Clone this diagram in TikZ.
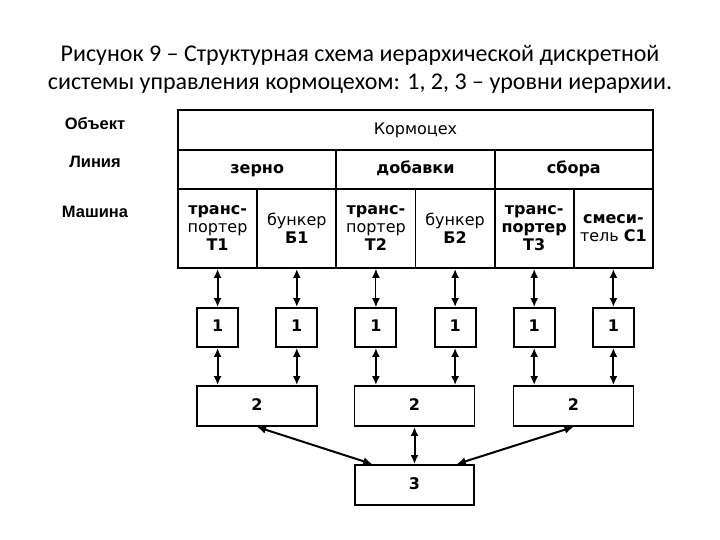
\documentclass[tikz,border=0pt]{standalone}
\usepackage{fontspec}
\setmainfont{Liberation Sans}
\newfontfamily\cellfont{DejaVu Sans}
\newfontfamily\titlefont{Carlito}
\usetikzlibrary{arrows.meta,positioning,calc}

\begin{document}
\begin{tikzpicture}[x=1pt, y=-1pt,
    cell/.style={draw, line width=1.9pt, inner sep=0pt, align=center, font=\cellfont\fontsize{16}{18}\selectfont},
    oneline/.style={text height=12pt, text depth=3.5pt},
    objcell/.style={cell, oneline, minimum width=475pt, minimum height=40pt},
    linecell/.style={cell, oneline, minimum width=158.3pt, minimum height=39pt, font=\cellfont\fontsize{16}{18}\selectfont\bfseries},
    machcell/.style={cell, minimum width=79.2pt, minimum height=79pt},
    lvl/.style={cell, oneline, minimum height=40pt, font=\cellfont\fontsize{16}{18}\selectfont\bfseries},
    side/.style={oneline, font=\fontsize{16.5}{18}\selectfont\bfseries},
    link/.style={{Latex[length=9pt,width=8pt]}-{Latex[length=9pt,width=8pt]}, line width=2pt}
]
\useasboundingbox (0,0) rectangle (720,540);
\node[align=center, font=\titlefont\fontsize{24}{28}\selectfont] (title) at (360,69)
    {Рисунок 9 – Структурная схема иерархической дискретной\\системы управления кормоцехом: 1, 2, 3 – уровни иерархии.};

% table
\node[side] (lobj) at (95,125) {Объект};
\node[side] (lline) at (95,163) {Линия};
\node[side] (lmach) at (95,213) {Машина};
\node[objcell] (obj) at (415.5,130) {Кормоцех};
\node[linecell] (ln1) at (257.2,169.5) {зерно};
\node[linecell] (ln2) at (415.5,169.5) {добавки};
\node[linecell] (ln3) at (573.8,169.5) {сбора};
\node[machcell] (m1) at (217.6,228.5) {\textbf{транс-}\\портер\\\textbf{Т1}};
\node[machcell] (m2) at (296.8,228.5) {бункер\\\textbf{Б1}};
\node[machcell] (m3) at (375.9,228.5) {\textbf{транс-}\\портер\\\textbf{Т2}};
\node[machcell] (m4) at (455.1,228.5) {бункер\\\textbf{Б2}};
\node[machcell] (m5) at (534.2,228.5) {\textbf{транс-}\\\textbf{портер}\\\textbf{Т3}};
\node[machcell] (m6) at (613.4,228.5) {\textbf{смеси-}\\тель \textbf{С1}};

% levels
\node[lvl, minimum width=41pt, minimum height=39pt] (a1) at (217.6,327.5) {1};
\node[lvl, minimum width=41pt, minimum height=39pt] (a2) at (296.8,327.5) {1};
\node[lvl, minimum width=41pt, minimum height=39pt] (a3) at (375.9,327.5) {1};
\node[lvl, minimum width=41pt, minimum height=39pt] (a4) at (455.1,327.5) {1};
\node[lvl, minimum width=41pt, minimum height=39pt] (a5) at (534.2,327.5) {1};
\node[lvl, minimum width=41pt, minimum height=39pt] (a6) at (613.4,327.5) {1};
\node[lvl, minimum width=120pt] (b1) at (257,406) {2};
\node[lvl, minimum width=120pt] (b2) at (414.5,406) {2};
\node[lvl, minimum width=120pt] (b3) at (573.5,406) {2};
\node[lvl, minimum width=119pt] (c) at (414.5,485) {3};

\draw[link] (m1.south) -- (a1.north);
\draw[link] (m2.south) -- (a2.north);
\draw[link, line width=1.1pt] (m3.south) -- (a3.north);
\draw[link] (m4.south) -- (a4.north);
\draw[link] (m5.south) -- (a5.north);
\draw[link] (m6.south) -- (a6.north);
\draw[link] (a1.south) -- (a1.south |- b1.north);
\draw[link] (a2.south) -- (a2.south |- b1.north);
\draw[link] (a3.south) -- (a3.south |- b2.north);
\draw[link] (a4.south) -- (a4.south |- b2.north);
\draw[link] (a5.south) -- (a5.south |- b3.north);
\draw[link] (a6.south) -- (a6.south |- b3.north);
\draw[link] (b1.south) -- ($(c.north west)!0.15!(c.north east)$);
\draw[link] (b2.south) -- (c.north);
\draw[link] (b3.south) -- ($(c.north east)!0.15!(c.north west)$);
\end{tikzpicture}
\end{document}
